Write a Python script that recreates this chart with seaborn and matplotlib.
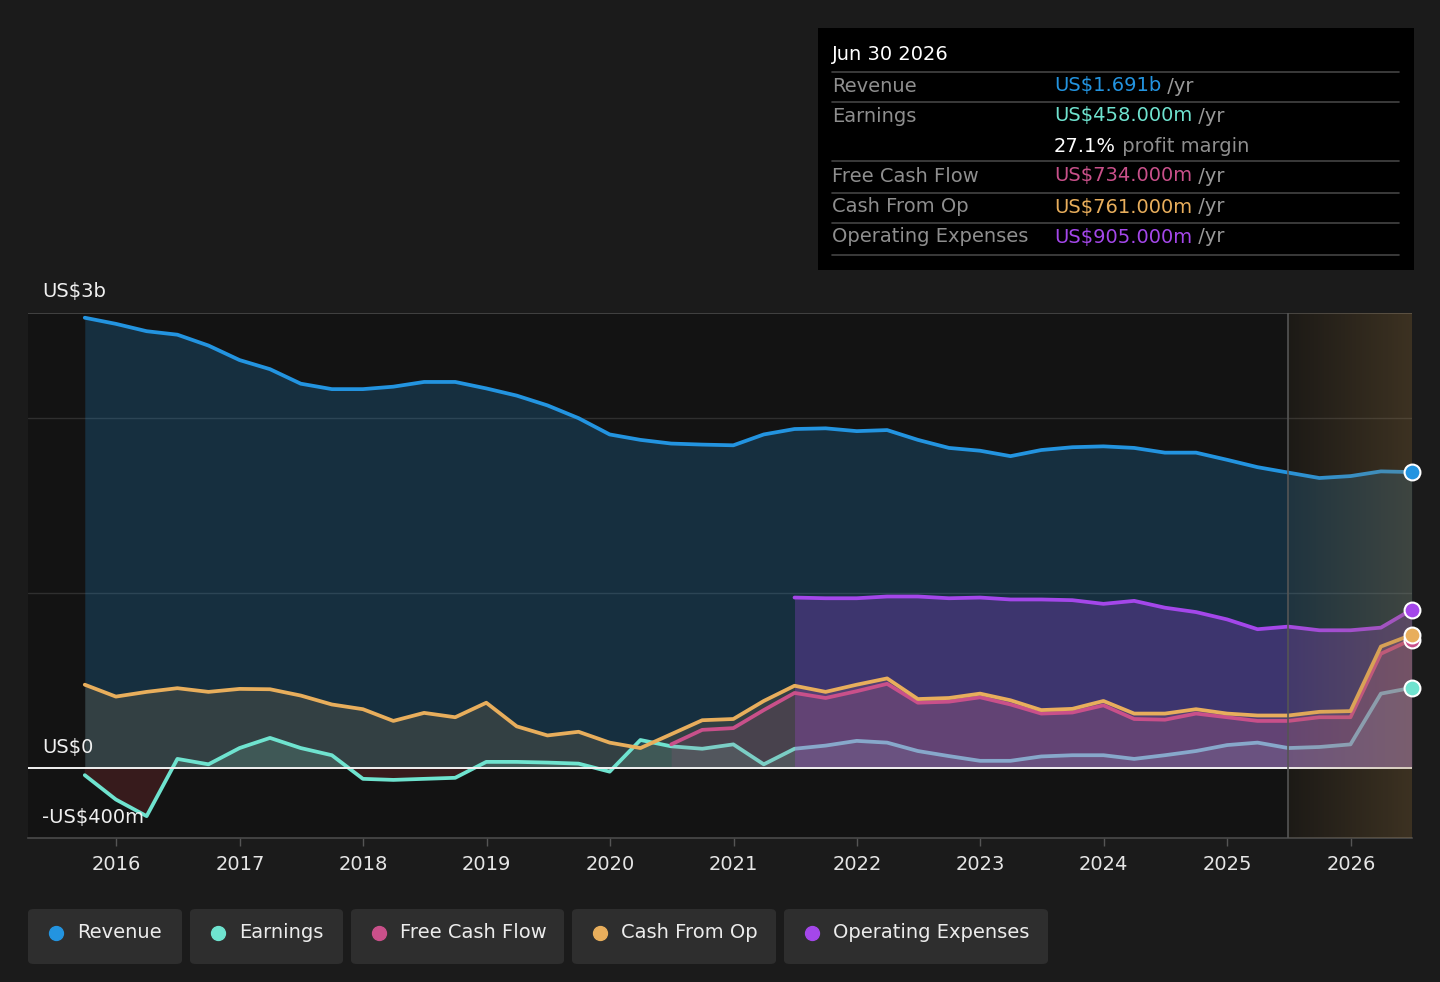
import numpy as np
import pandas as pd
import matplotlib
matplotlib.use('Agg')
import matplotlib.pyplot as plt
import matplotlib.dates as mdates
from matplotlib.colors import LinearSegmentedColormap
from matplotlib.patches import FancyBboxPatch, Rectangle
from matplotlib.lines import Line2D
import seaborn as sns

W, H = 1440, 982

# quarterly values, US$ billions (Sep 2015 .. Jun 2026)
dates = pd.date_range('2015-09-30', '2026-06-30', freq='QE')
revenue = [2.573, 2.538, 2.496, 2.476, 2.414, 2.331, 2.279, 2.196, 2.165, 2.165,
           2.179, 2.206, 2.206, 2.169, 2.128, 2.072, 1.999, 1.906, 1.875, 1.854,
           1.848, 1.844, 1.906, 1.937, 1.941, 1.925, 1.931, 1.875, 1.829, 1.813,
           1.782, 1.817, 1.833, 1.838, 1.829, 1.802, 1.802, 1.761, 1.719, 1.688,
           1.657, 1.668, 1.695, 1.691]
earnings = [-0.041, -0.180, -0.275, 0.052, 0.021, 0.114, 0.172, 0.114, 0.073, -0.062,
            -0.068, -0.062, -0.056, 0.035, 0.035, 0.031, 0.025, -0.021, 0.160, 0.124,
            0.110, 0.135, 0.021, 0.110, 0.128, 0.155, 0.145, 0.097, 0.068, 0.041,
            0.041, 0.066, 0.073, 0.073, 0.052, 0.073, 0.097, 0.131, 0.145, 0.114,
            0.120, 0.135, 0.425, 0.458]
cash_from_op = [0.476, 0.408, 0.435, 0.456, 0.435, 0.452, 0.450, 0.414, 0.363, 0.336,
                0.269, 0.315, 0.290, 0.373, 0.238, 0.186, 0.207, 0.145, 0.114, 0.193,
                0.273, 0.280, 0.383, 0.470, 0.435, 0.476, 0.512, 0.394, 0.400, 0.425,
                0.387, 0.331, 0.338, 0.383, 0.311, 0.311, 0.336, 0.311, 0.300, 0.300,
                0.321, 0.325, 0.694, 0.761]
free_cash_flow = [np.nan] * 19 + [
    0.135, 0.218, 0.228, 0.331, 0.429, 0.400, 0.439, 0.481, 0.373, 0.379,
    0.404, 0.363, 0.311, 0.317, 0.358, 0.280, 0.276, 0.311, 0.290, 0.269,
    0.269, 0.290, 0.290, 0.653, 0.734]
op_expenses = [np.nan] * 23 + [
    0.974, 0.970, 0.970, 0.980, 0.980, 0.970, 0.974, 0.963, 0.963, 0.959,
    0.938, 0.955, 0.916, 0.891, 0.849, 0.793, 0.808, 0.787, 0.787, 0.802,
    0.905]

series_names = ['Revenue', 'Earnings', 'Free Cash Flow', 'Cash From Op', 'Operating Expenses']
series_colors = ['#2394e0', '#6fe3cf', '#c9508a', '#e8ae5c', '#a447ea']
tooltip_values = ['US$1.691b', 'US$458.000m', 'US$734.000m', 'US$761.000m', 'US$905.000m']
forecast_start = pd.Timestamp('2025-06-30')

df = pd.DataFrame({'date': dates, 'Revenue': revenue, 'Earnings': earnings,
                   'Free Cash Flow': free_cash_flow, 'Cash From Op': cash_from_op,
                   'Operating Expenses': op_expenses})
colors = dict(zip(series_names, series_colors))

sns.set_theme(style='dark', rc={'figure.facecolor': '#1b1b1b', 'axes.facecolor': '#131313'})
plt.rcParams['font.family'] = ['DejaVu Sans']
FS = 14

fig = plt.figure(figsize=(W / 100, H / 100), dpi=100)
ax = fig.add_axes([28 / W, 1 - 838 / H, 1384 / W, 525 / H])
ax.set_facecolor('#131313')

# area fills
ax.fill_between(df['date'], df['Revenue'], 0, color=colors['Revenue'], alpha=0.22, lw=0, zorder=1)
earn = np.array(earnings)
ax.fill_between(df['date'], earn, 0, where=earn >= 0, interpolate=True,
                color=colors['Earnings'], alpha=0.16, lw=0, zorder=2)
ax.fill_between(df['date'], earn, 0, where=earn <= 0, interpolate=True,
                color='#e0404a', alpha=0.18, lw=0, zorder=2)
ax.fill_between(df['date'], df['Cash From Op'], 0, color=colors['Cash From Op'], alpha=0.14, lw=0, zorder=2)

# earnings line sits under the later fills
sns.lineplot(data=df, x='date', y='Earnings', color=colors['Earnings'], linewidth=2.7,
             ax=ax, zorder=3, legend=False)
ax.fill_between(df['date'], df['Operating Expenses'], 0, color=colors['Operating Expenses'],
                alpha=0.28, lw=0, zorder=4)
ax.fill_between(df['date'], df['Free Cash Flow'], 0, color=colors['Free Cash Flow'], alpha=0.14, lw=0, zorder=4)

for name in ['Revenue', 'Operating Expenses', 'Free Cash Flow', 'Cash From Op']:
    sns.lineplot(data=df, x='date', y=name, color=colors[name], linewidth=2.7,
                 ax=ax, zorder=6, legend=False)

# gridlines
for yv, c, lw in [(1, '#2f2f2f', 1.0), (2, '#2f2f2f', 1.0), (2.6, '#4a4a4a', 1.2)]:
    ax.axhline(yv, color=c, lw=lw, zorder=0.5)
ax.axhline(0, color='#f2f2f2', lw=1.4, zorder=5)

# forecast shading
xmin = mdates.date2num(pd.Timestamp('2015-04-15'))
xmax = mdates.date2num(pd.Timestamp('2026-07-01'))
fx0 = mdates.date2num(forecast_start)
cmap = LinearSegmentedColormap.from_list('fc', [(0.62, 0.48, 0.27, 0.07), (0.62, 0.48, 0.27, 0.30)])
ax.imshow(np.linspace(0, 1, 256).reshape(1, -1), extent=[fx0, xmax, -0.4, 2.6],
          aspect='auto', cmap=cmap, zorder=7, interpolation='bicubic')
ax.axvline(forecast_start, color='#555555', lw=1.2, zorder=7)

# end markers
for name in ['Revenue', 'Operating Expenses', 'Earnings', 'Free Cash Flow', 'Cash From Op']:
    ax.scatter([df['date'].iloc[-1]], [df[name].iloc[-1]], s=130, color=colors[name],
               edgecolor='white', linewidth=1.5, zorder=9, clip_on=False)

ax.set_xlim(xmin, xmax)
ax.set_ylim(-0.4, 2.6)
ax.set_xlabel('')
ax.set_ylabel('')
ax.set_yticks([])
years = pd.date_range('2016-01-01', '2026-01-01', freq='YS')
ax.set_xticks(years)
ax.set_xticklabels([str(d.year) for d in years], color='#e6e6e6', fontsize=FS)
ax.tick_params(axis='x', bottom=True, length=6, width=1, color='#555555', pad=6)
for s in ['top', 'left', 'right']:
    ax.spines[s].set_visible(False)
ax.spines['bottom'].set_color('#4a4a4a')
ax.spines['bottom'].set_linewidth(1.2)
ax.grid(False)

# value labels on the left
for txt, ypx in [('US$3b', 291), ('US$0', 747), ('-US$400m', 817)]:
    fig.text(42 / W, 1 - ypx / H, txt, color='#f0f0f0', fontsize=FS, va='center', ha='left', zorder=10)

# tooltip box
fig.add_artist(Rectangle((818 / W, 1 - 270 / H), 596 / W, 242 / H, transform=fig.transFigure,
                         facecolor='#000000', edgecolor='none', zorder=20))
fig.text(832 / W, 1 - 55 / H, 'Jun 30 2026', color='#ffffff', fontsize=FS, va='center', zorder=21)
for ypx in [72, 102, 161, 193, 223, 255]:
    fig.add_artist(Line2D([832 / W, 1399 / W], [1 - ypx / H] * 2, transform=fig.transFigure,
                          color='#444444', lw=1.2, zorder=21))

renderer = fig.canvas.get_renderer()


def segments(x, y, parts):
    for text, col in parts:
        t = fig.text(x / W, 1 - y / H, text, color=col, fontsize=FS, va='center', zorder=21)
        bb = t.get_window_extent(renderer=renderer)
        x += bb.width


row_y = [86, 116, 176, 207, 237]
for name, val, ypx in zip(series_names, tooltip_values, row_y):
    fig.text(832 / W, 1 - ypx / H, name, color='#8e8e8e', fontsize=FS, va='center', zorder=21)
    segments(1054, ypx, [(val, colors[name]), (' /yr', '#9a9a9a')])
segments(1054, 146, [('27.1%', '#ffffff'), (' profit margin', '#8e8e8e')])

# legend chips
chips = [(28, 182), (190, 343), (351, 564), (572, 776), (784, 1048)]
for (x0, x1), name in zip(chips, series_names):
    fig.add_artist(FancyBboxPatch((x0 / W, 1 - 964 / H), (x1 - x0) / W, 55 / H,
                                  boxstyle='round,pad=0,rounding_size=0.004',
                                  transform=fig.transFigure, facecolor='#2e2e2e',
                                  edgecolor='none', zorder=20))
    fig.add_artist(Line2D([(x0 + 28) / W], [1 - 933 / H], marker='o', ms=10, color=colors[name],
                          transform=fig.transFigure, zorder=21))
    fig.text((x0 + 49) / W, 1 - 933 / H, name, color='#ececec', fontsize=FS, va='center', zorder=21)

fig.savefig('out.png', dpi=100, facecolor=fig.get_facecolor())
